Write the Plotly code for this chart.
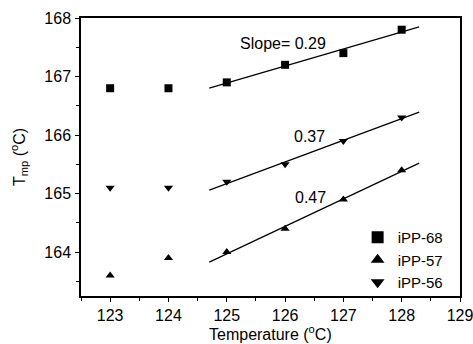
import numpy as np
import plotly.graph_objects as go

temps = [123, 124, 125, 126, 127, 128]
ipp68 = [166.8, 166.8, 166.9, 167.2, 167.4, 167.8]
ipp57 = [163.6, 163.9, 164.0, 164.4, 164.9, 165.4]
ipp56 = [165.1, 165.1, 165.2, 165.5, 165.9, 166.3]
fit_range = [124.7, 128.3]
slope_labels = ["Slope= 0.29", "0.37", "0.47"]

fig = go.Figure()
series = [("iPP-68", ipp68, "square"), ("iPP-57", ipp57, "triangle-up"), ("iPP-56", ipp56, "triangle-down")]
for name, ys, sym in series:
    fig.add_trace(go.Scatter(x=temps, y=ys, mode="markers", name=name,
                             marker=dict(symbol=sym, size=8, color="black")))
for name, ys, sym in series:
    p = np.polyfit(temps[2:], ys[2:], 1)
    xf = np.array(fit_range)
    fig.add_trace(go.Scatter(x=xf, y=np.polyval(p, xf), mode="lines",
                             line=dict(color="black", width=1.2), showlegend=False))

fig.add_annotation(x=125.97, y=167.57, text=slope_labels[0], showarrow=False, font=dict(size=16))
fig.add_annotation(x=126.42, y=165.97, text=slope_labels[1], showarrow=False, font=dict(size=16))
fig.add_annotation(x=126.44, y=164.93, text=slope_labels[2], showarrow=False, font=dict(size=16))
fig.add_annotation(x=0.5, y=0, xref="paper", yref="paper", xanchor="center", yanchor="top", yshift=-25,
                   text="Temperature (<sup>o</sup>C)", showarrow=False, font=dict(size=16))

axis_common = dict(showgrid=False, zeroline=False, showline=True, linecolor="black", linewidth=1.5,
                   mirror=True, ticks="outside", ticklen=4, tickcolor="black", automargin=False,
                   ticklabeloverflow="allow",
                   minor=dict(ticks="outside", ticklen=3, tickcolor="black"),
                   tickfont=dict(size=16, color="black"))
fig.update_xaxes(range=[122.5, 129], dtick=1, minor_dtick=0.5, ticklabelstandoff=0, **axis_common)
fig.update_yaxes(range=[163.25, 168], dtick=1, minor_dtick=0.5, ticklabelstandoff=1,
                 title=dict(text="T<sub>mp</sub> (<sup>o</sup>C)", font=dict(size=16, color="black")),
                 **axis_common)
fig.update_layout(width=473, height=344, margin=dict(l=81, r=13, t=18, b=48),
                  plot_bgcolor="white", paper_bgcolor="white",
                  font=dict(family="Liberation Sans, Arial, sans-serif", color="black"),
                  legend=dict(x=0.97, y=0.27, xanchor="right", yanchor="top", bgcolor="rgba(0,0,0,0)",
                              font=dict(size=15), itemsizing="constant", tracegroupgap=0))
fig.write_html("out.html")
